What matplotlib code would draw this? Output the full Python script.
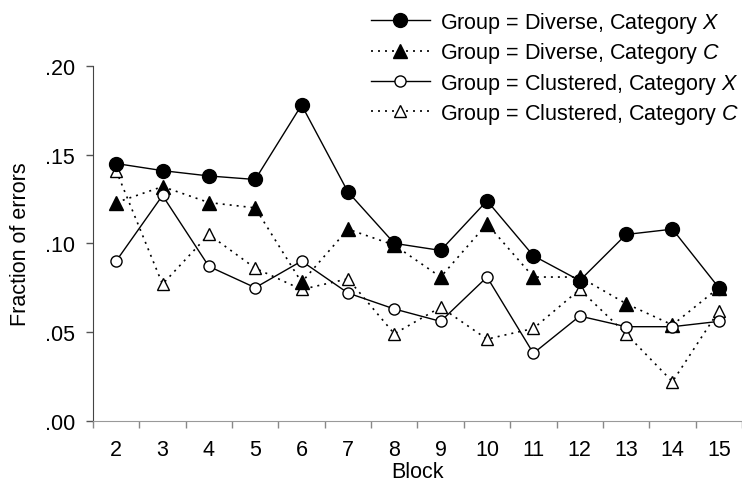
import numpy as np
import matplotlib
matplotlib.use("Agg")
import matplotlib.pyplot as plt

plt.rcParams['font.family'] = ['Liberation Sans', 'DejaVu Sans']
plt.rcParams['mathtext.fontset'] = 'custom'
plt.rcParams['mathtext.rm'] = 'Liberation Sans'
plt.rcParams['mathtext.it'] = 'Liberation Sans:italic'

# blocks and fraction of errors per group/category
blocks = [2, 3, 4, 5, 6, 7, 8, 9, 10, 11, 12, 13, 14, 15]
diverse_x = [0.145, 0.141, 0.138, 0.136, 0.178, 0.129, 0.100, 0.096, 0.124, 0.093, 0.079, 0.105, 0.108, 0.075]
diverse_c = [0.123, 0.132, 0.123, 0.120, 0.078, 0.108, 0.099, 0.081, 0.111, 0.081, 0.081, 0.066, 0.054, 0.075]
clustered_x = [0.090, 0.127, 0.087, 0.075, 0.090, 0.072, 0.063, 0.056, 0.081, 0.038, 0.059, 0.053, 0.053, 0.056]
clustered_c = [0.141, 0.077, 0.105, 0.086, 0.074, 0.080, 0.049, 0.064, 0.046, 0.052, 0.074, 0.049, 0.022, 0.062]

labels = [r'Group = Diverse, Category $\it{X}$',
          r'Group = Diverse, Category $\it{C}$',
          r'Group = Clustered, Category $\it{X}$',
          r'Group = Clustered, Category $\it{C}$']

fs = 15.5

fig = plt.figure(figsize=(7.42, 4.85), dpi=100)
ax = fig.add_axes([0.1253, 0.1305, 0.8747, 0.7314])

dots = (0, (1.2, 3))
ax.plot(blocks, diverse_x, color='black', lw=1.0, marker='o', ms=10, mfc='black', mec='black', label=labels[0], zorder=4)
ax.plot(blocks, diverse_c, color='black', lw=1.2, ls=dots, marker='^', ms=10, mfc='black', mec='black', label=labels[1], zorder=3)
ax.plot(blocks, clustered_x, color='black', lw=1.0, marker='o', ms=8, mfc='white', mec='black', mew=1.0, label=labels[2], zorder=5)
ax.plot(blocks, clustered_c, color='black', lw=1.2, ls=dots, marker='^', ms=8.5, mfc='white', mec='black', mew=1.0, label=labels[3], zorder=2)

ax.set_xlim(1.5, 15.5)
ax.set_ylim(0, 0.20)
ax.set_xticks(blocks)
ax.set_xticklabels([str(b) for b in blocks])
ax.set_xticks(np.arange(1.5, 15.6, 1.0), minor=True)
ax.tick_params(axis='x', which='major', length=0, pad=13, labelsize=fs)
ax.tick_params(axis='x', which='minor', length=5, width=1.0, color='#888888', direction='out')
ax.set_yticks([0, 0.05, 0.10, 0.15, 0.20])
ax.set_yticklabels(['.00', '.05', '.10', '.15', '.20'])
ax.tick_params(axis='y', length=5, width=1.0, color='#555555', pad=8, labelsize=fs)

ax.spines['top'].set_visible(False)
ax.spines['right'].set_visible(False)
ax.spines['left'].set_color('#444444')
ax.spines['bottom'].set_color('#999999')
ax.spines['bottom'].set_bounds(1.5, 15.5)

ax.set_xlabel('Block', fontsize=fs, labelpad=1)
ax.set_ylabel('Fraction of errors', fontsize=fs, labelpad=10)

leg = ax.legend(loc='upper left', bbox_to_anchor=(0.485, 1.0), bbox_transform=fig.transFigure,
                frameon=False, fontsize=fs, handlelength=2.75, handletextpad=0.45,
                labelspacing=0.25, borderaxespad=0.2, borderpad=0.3)

fig.savefig('out.png', dpi=100)
